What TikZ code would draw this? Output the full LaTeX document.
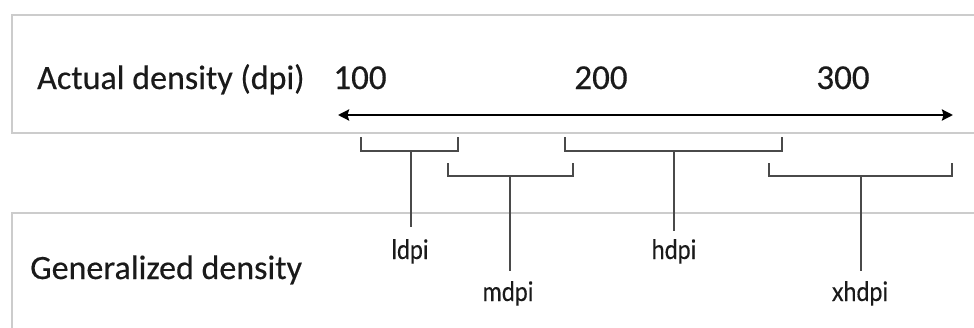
\documentclass[tikz,border=0pt]{standalone}
\usepackage{fontspec}
\setmainfont{Carlito}
\newfontfamily\mainfont[FakeBold=0.4]{Carlito}
\newfontfamily\smallfont[FakeStretch=0.86,FakeBold=0.3]{Lato}
\usetikzlibrary{arrows.meta}
\definecolor{boxgray}{HTML}{CCCCCC}
\definecolor{brk}{HTML}{4A4A4A}
\definecolor{txt}{HTML}{1A1A1A}
\tikzset{
  panel/.style={draw=boxgray, line width=1.8pt},
  bracketline/.style={draw=brk, line width=1.8pt},
  mainlabel/.style={anchor=base west, inner sep=0pt, font=\mainfont\fontsize{34}{37}\selectfont, text=txt},
  numlabel/.style={anchor=base, inner sep=0pt, font=\mainfont\fontsize{35}{38}\selectfont, text=txt},
  dpilabel/.style={anchor=base, inner sep=0pt, font=\smallfont\fontsize{27}{30}\selectfont, text=txt},
  axis/.style={line width=2.4pt, {Stealth[length=11pt,width=11pt,inset=1.5pt]}-{Stealth[length=11pt,width=11pt,inset=1.5pt]}}
}
\begin{document}
\begin{tikzpicture}[x=1pt,y=-1pt]
\useasboundingbox (0,0) rectangle (974,327);
\clip (0,0) rectangle (974,327);
% panels
\draw[panel] (980,15) -- (12,15) -- (12,133) -- (980,133);
\draw[panel] (980,213) -- (12,213) -- (12,335);
% texts
\node[mainlabel] (actual) at (37,89) {Actual density (dpi)};
\node[mainlabel] (general) at (30,279) {Generalized density};
\node[numlabel] (n100) at (360,89) {100};
\node[numlabel] (n200) at (601,89) {200};
\node[numlabel] (n300) at (843,89) {300};
% axis
\coordinate (axl) at (338,115);
\coordinate (axr) at (953,115);
\draw[axis] (axl) -- (axr);
% labels
\node[dpilabel] (ldpi) at (410,259) {ldpi};
\node[dpilabel] (hdpi) at (674,259) {hdpi};
\node[dpilabel] (mdpi) at (508,301) {mdpi};
\node[dpilabel] (xhdpi) at (860,301) {xhdpi};
% brackets
\coordinate (b1) at (411,151);
\coordinate (b2) at (510,176);
\coordinate (b3) at (674,151);
\coordinate (b4) at (861,176);
\draw[bracketline] (361,137) -- (361,151) -- (458,151) -- (458,137);
\draw[bracketline] (448,163) -- (448,176) -- (573,176) -- (573,163);
\draw[bracketline] (565,137) -- (565,151) -- (782,151) -- (782,137);
\draw[bracketline] (769,163) -- (769,176) -- (952,176) -- (952,163);
\draw[bracketline, shorten >=12pt] (b1) -- (b1 |- ldpi.north);
\draw[bracketline, shorten >=10pt] (b2) -- (b2 |- mdpi.north);
\draw[bracketline, shorten >=8pt] (b3) -- (b3 |- hdpi.north);
\draw[bracketline, shorten >=10pt] (b4) -- (b4 |- xhdpi.north);
\end{tikzpicture}
\end{document}
